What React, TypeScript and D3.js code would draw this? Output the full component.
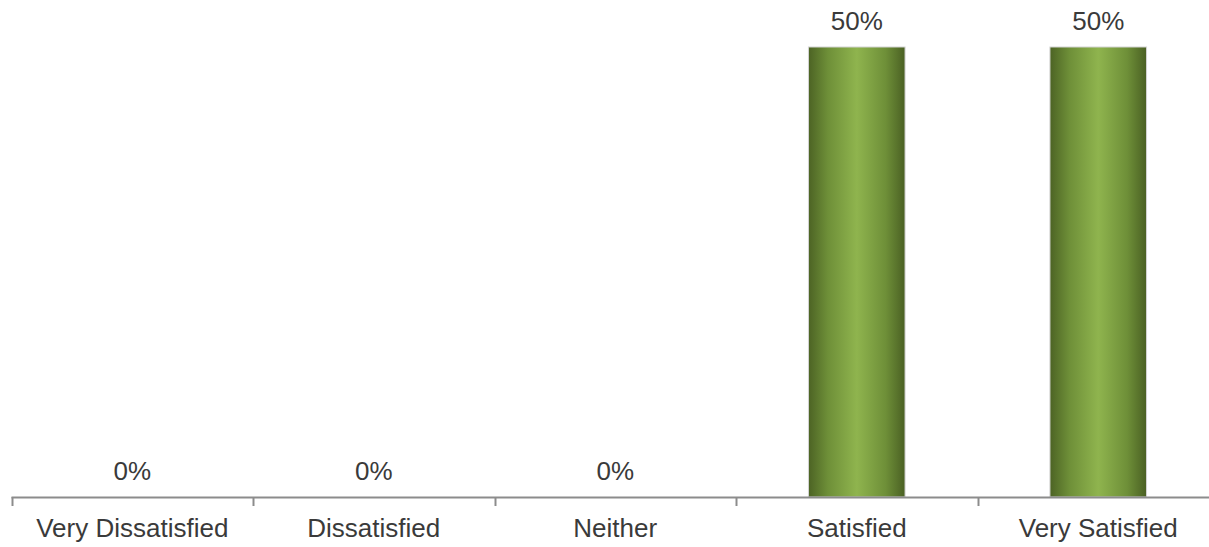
import React from "react";
import * as d3 from "d3";

const categories = ["Very Dissatisfied", "Dissatisfied", "Neither", "Satisfied", "Very Satisfied"];
const values = [0, 0, 0, 0.5, 0.5];
const valueLabels = ["0%", "0%", "0%", "50%", "50%"];

const W = 1209;
const H = 547;

export default function App() {
  const x = d3.scaleBand<string>().domain(categories).range([11.5, 1219]).padding(0);
  const y = d3.scaleLinear().domain([0, 0.5]).range([497, 47]);
  const step = x.step();
  const barW = step * 0.4;
  const font = "'Liberation Sans', Arial, sans-serif";
  const ticks = categories.map((c) => x(c)!).concat([x.range()[1]]);
  return (
    <svg
      width={W}
      height={H}
      style={{ position: "fixed", left: 0, top: 0, background: "#fff" }}
    >
      <defs>
        <linearGradient id="barGrad" x1="0" x2="1" y1="0" y2="0">
          <stop offset="0" stopColor="#4c6324" />
          <stop offset="0.2" stopColor="#6e8f38" />
          <stop offset="0.5" stopColor="#8fb44e" />
          <stop offset="0.8" stopColor="#6e8f38" />
          <stop offset="1" stopColor="#4a6023" />
        </linearGradient>
      </defs>
      {categories.map((c, i) => {
        const cx = x(c)! + step / 2;
        const v = values[i];
        return (
          <g key={c}>
            {v > 0 && (
              <rect
                x={cx - barW / 2}
                y={y(v)}
                width={barW}
                height={y(0) - y(v)}
                fill="url(#barGrad)"
                stroke="#d4d4d4"
                strokeWidth={1}
              />
            )}
            <text
              x={cx}
              y={y(v) - 17}
              textAnchor="middle"
              fontFamily={font}
              fontSize={26}
              fill="#3a3a3a"
            >
              {valueLabels[i]}
            </text>
            <text
              x={cx}
              y={537}
              textAnchor="middle"
              fontFamily={font}
              fontSize={26}
              fill="#3a3a3a"
            >
              {c}
            </text>
          </g>
        );
      })}
      <line x1={11.5} x2={W} y1={497.5} y2={497.5} stroke="#8c8c8c" strokeWidth={2} />
      {ticks.map((t, i) => (
        <line key={i} x1={Math.round(t) + 0.5} x2={Math.round(t) + 0.5} y1={497} y2={506} stroke="#8c8c8c" strokeWidth={2} />
      ))}
    </svg>
  );
}
